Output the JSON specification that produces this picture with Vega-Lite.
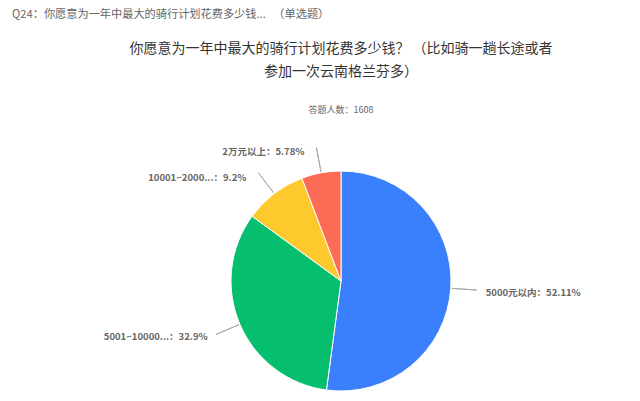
{
  "$schema": "https://vega.github.io/schema/vega-lite/v6.json",
  "padding": {"left": 9, "top": 9, "right": 0, "bottom": 0},
  "title": {
    "text": "Q24：你愿意为一年中最大的骑行计划花费多少钱...\u00a0\u00a0\u00a0（单选题）",
    "anchor": "start",
    "frame": "group",
    "font": "Noto Sans CJK SC",
    "fontSize": 11.2,
    "fontWeight": "normal",
    "color": "#666666",
    "offset": 22
  },
  "config": {"view": {"stroke": null}},
  "spacing": 26,
  "datasets": {
    "pie": [
      {"i": 1, "cat": "5000元以内", "label": "5000元以内：52.11%", "pct": 52.11},
      {"i": 2, "cat": "5001~10000", "label": "5001~10000...：32.9%", "pct": 32.9},
      {"i": 3, "cat": "10001~20000", "label": "10001~2000...：9.2%", "pct": 9.2},
      {"i": 4, "cat": "2万元以上", "label": "2万元以上：5.78%", "pct": 5.78}
    ]
  },
  "hconcat": [
    {
      "width": 1,
      "height": 1,
      "data": {"name": "pie"},
      "mark": {"type": "point", "opacity": 0},
      "encoding": {}
    },
    {
      "width": 598,
      "height": 236,
      "data": {"name": "pie"},
      "title": {
        "text": ["你愿意为一年中最大的骑行计划花费多少钱？ （比如骑一趟长途或者", "参加一次云南格兰芬多）"],
        "subtitle": "答题人数：1608",
        "anchor": "middle",
        "font": "Noto Sans CJK SC",
        "fontSize": 14,
        "fontWeight": "normal",
        "lineHeight": 23,
        "color": "#333333",
        "subtitleFont": "Noto Sans CJK SC",
        "subtitleFontSize": 9,
        "subtitleColor": "#666666",
        "subtitlePadding": 27,
        "offset": 17
      },
      "resolve": {"scale": {"theta": "independent"}},
      "layer": [
        {
          "mark": {"type": "arc", "radius": 110, "stroke": "#ffffff", "strokeWidth": 1},
          "encoding": {
            "theta": {"field": "pct", "type": "quantitative", "stack": true},
            "order": {"field": "i", "type": "quantitative"},
            "color": {
              "field": "cat",
              "type": "nominal",
              "legend": null,
              "scale": {
                "domain": ["5000元以内", "5001~10000", "10001~20000", "2万元以上"],
                "range": ["#3a7ffb", "#05bf6e", "#fec92c", "#fc6b56"]
              }
            }
          }
        },
        {
          "mark": {"type": "arc", "radius": 136, "radius2": 111, "padAngle": 3.1416, "filled": false, "stroke": "#aaaaaa", "strokeWidth": 1},
          "encoding": {
            "theta": {"field": "pct", "type": "quantitative", "stack": true},
            "order": {"field": "i", "type": "quantitative"},
            "strokeOpacity": {"condition": {"test": "datum.cat === '5000元以内'", "value": 0}, "value": 1}
          }
        },
        {
          "mark": {"type": "arc", "radius": 136, "radius2": 111, "padAngle": 3.1416, "filled": false, "stroke": "#aaaaaa", "strokeWidth": 1},
          "encoding": {
            "theta": {"field": "pct", "type": "quantitative", "stack": true, "scale": {"range": [0.3343, 5.3343]}},
            "order": {"field": "i", "type": "quantitative"},
            "strokeOpacity": {"condition": {"test": "datum.cat === '5000元以内'", "value": 1}, "value": 0}
          }
        },
        {
          "mark": {"type": "text", "radius": 145, "align": "left", "baseline": "middle", "dy": 2, "font": "Noto Sans CJK SC", "fontSize": 9.5, "fontWeight": "bold", "color": "#666666"},
          "encoding": {
            "theta": {"field": "pct", "type": "quantitative", "stack": true},
            "order": {"field": "i", "type": "quantitative"},
            "text": {"condition": {"test": "datum.cat === '5000元以内'", "field": "label"}, "value": ""}
          }
        },
        {
          "mark": {"type": "text", "radius": 145, "align": "right", "baseline": "middle", "dy": -1, "font": "Noto Sans CJK SC", "fontSize": 9.5, "fontWeight": "bold", "color": "#666666"},
          "encoding": {
            "theta": {"field": "pct", "type": "quantitative", "stack": true},
            "order": {"field": "i", "type": "quantitative"},
            "text": {"condition": {"test": "datum.cat === '5001~10000'", "field": "label"}, "value": ""}
          }
        },
        {
          "mark": {"type": "text", "radius": 136, "align": "right", "baseline": "middle", "dx": -12, "dy": 5, "font": "Noto Sans CJK SC", "fontSize": 9.5, "fontWeight": "bold", "color": "#666666"},
          "encoding": {
            "theta": {"field": "pct", "type": "quantitative", "stack": true},
            "order": {"field": "i", "type": "quantitative"},
            "text": {"condition": {"test": "datum.cat === '10001~20000' || datum.cat === '2万元以上'", "field": "label"}, "value": ""}
          }
        }
      ]
    }
  ]
}
